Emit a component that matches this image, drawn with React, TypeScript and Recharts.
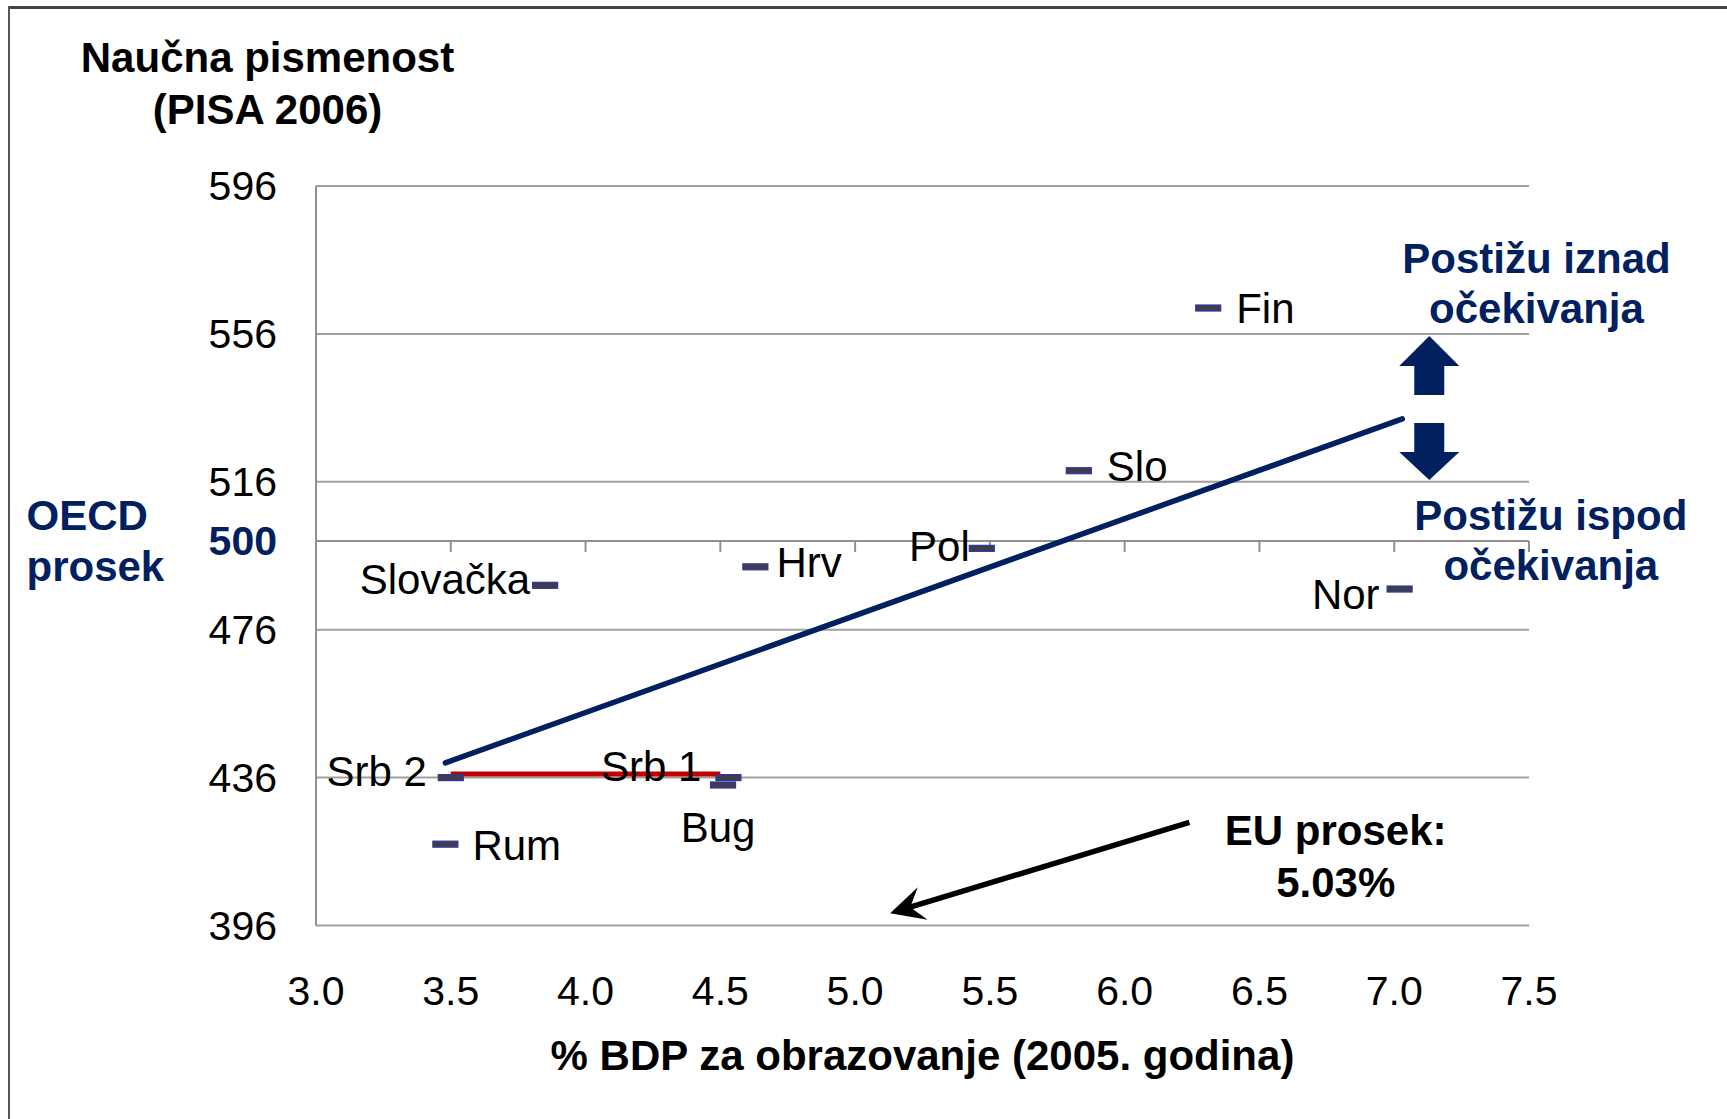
import React from "react";
import {
  ScatterChart, Scatter, XAxis, YAxis, CartesianGrid, ReferenceLine, ReferenceDot,
} from "recharts";

const FONT = "'Liberation Sans', Arial, sans-serif";
const NAVY = "#002060";
const GRID = "#a0a0a0";

// PISA 2006 science vs. % of GDP spent on education (2005)
const COUNTRIES = ["Fin", "Slo", "Pol", "Hrv", "Slovačka", "Nor", "Srb 2", "Srb 1", "Bug", "Rum"];
const GDP_SHARE = [6.31, 5.83, 5.47, 4.63, 3.85, 7.02, 3.5, 4.53, 4.51, 3.48];
const SCIENCE = [563, 519, 498, 493, 488, 487, 436, 436, 434, 418];

const X_TICKS = [3.0, 3.5, 4.0, 4.5, 5.0, 5.5, 6.0, 6.5, 7.0, 7.5];
const Y_TICKS = [396, 436, 476, 500, 516, 556, 596];
const OECD_AVG = 500;

// trend line and the Serbia 1 -> Serbia 2 segment
const TREND_X = [3.48, 7.03];
const TREND_Y = [440, 533];
const SRB_X = [3.5, 4.5];
const SRB_Y = [437, 437];

// EU average arrow, and the above/below arrows anchor
const EU_ARROW_X = [6.24, 5.13];
const EU_ARROW_Y = [423.9, 399.3];
const UPDOWN_X = 7.13;
const UPDOWN_Y = 535.7;

const points = COUNTRIES.map((name, i) => ({ name, x: GDP_SHARE[i], y: SCIENCE[i] }));

const LABEL_POS: Record<string, { anchor: "start" | "end" | "middle"; dx: number; dy: number }> = {
  Fin: { anchor: "start", dx: 28, dy: 0 },
  Slo: { anchor: "start", dx: 28, dy: -4 },
  Pol: { anchor: "end", dx: -12, dy: -2 },
  Hrv: { anchor: "start", dx: 21, dy: -4 },
  "Slovačka": { anchor: "end", dx: -15, dy: -6 },
  Nor: { anchor: "end", dx: -20, dy: 5 },
  "Srb 2": { anchor: "end", dx: -24, dy: -6 },
  "Srb 1": { anchor: "end", dx: -27, dy: -11 },
  Bug: { anchor: "middle", dx: -5, dy: 43 },
  Rum: { anchor: "start", dx: 27, dy: 1 },
};

function DashPoint(props: any) {
  const { cx, cy, payload } = props;
  const pos = LABEL_POS[payload.name];
  return (
    <g>
      <text
        x={cx + pos.dx}
        y={cy + pos.dy}
        textAnchor={pos.anchor}
        dominantBaseline="central"
        fontFamily={FONT}
        fontSize={42}
        fill="#000"
      >
        {payload.name}
      </text>
      <rect x={cx - 12.5} y={cy - 3} width={25} height={6} fill="#3d3d4d" stroke="#3535a0" strokeWidth={1.2} />
    </g>
  );
}

function YTick(props: any) {
  const { x, y, payload } = props;
  const oecd = payload.value === OECD_AVG;
  return (
    <text
      x={x}
      y={y}
      textAnchor="end"
      dominantBaseline="central"
      fontFamily={FONT}
      fontSize={41}
      fontWeight={oecd ? 700 : 400}
      fill={oecd ? NAVY : "#000"}
    >
      {payload.value}
    </text>
  );
}

function XTick(props: any) {
  const { x, y, payload } = props;
  return (
    <text x={x} y={y} dy="0.71em" textAnchor="middle" fontFamily={FONT} fontSize={41} fill="#000">
      {Number(payload.value).toFixed(1)}
    </text>
  );
}

// small tick marks hanging from the OECD average line
function AxisTick(props: any) {
  const { cx, cy } = props;
  return <line x1={cx} y1={cy} x2={cx} y2={cy + 11} stroke="#909090" strokeWidth={2} />;
}

function UpDownArrows(props: any) {
  const { cx, cy } = props;
  const up = [
    [cx, cy - 73], [cx + 30, cy - 43], [cx + 15, cy - 43], [cx + 15, cy - 14],
    [cx - 15, cy - 14], [cx - 15, cy - 43], [cx - 30, cy - 43],
  ];
  const down = [
    [cx, cy + 71], [cx + 30, cy + 43], [cx + 15, cy + 43], [cx + 15, cy + 14],
    [cx - 15, cy + 14], [cx - 15, cy + 43], [cx - 30, cy + 43],
  ];
  return (
    <g>
      <polygon points={up.map((p) => p.join(",")).join(" ")} fill={NAVY} />
      <polygon points={down.map((p) => p.join(",")).join(" ")} fill={NAVY} />
    </g>
  );
}

function ArrowLine(props: any) {
  const { x1, y1, x2, y2 } = props;
  const len = Math.hypot(x2 - x1, y2 - y1);
  const ux = (x2 - x1) / len;
  const uy = (y2 - y1) / len;
  const px = -uy;
  const py = ux;
  const at = (back: number, side: number) => `${x2 - ux * back + px * side},${y2 - uy * back + py * side}`;
  return (
    <g>
      <line x1={x1} y1={y1} x2={x2 - ux * 20} y2={y2 - uy * 20} stroke="#000" strokeWidth={5.5} />
      <polygon points={`${x2},${y2} ${at(34, 17)} ${at(21, 0)} ${at(34, -17)}`} fill="#000" />
    </g>
  );
}

const textStyle = (left: number, top: number, width: number, lh: number, color: string, align: "center" | "left" = "center") =>
  ({
    position: "absolute",
    left,
    top,
    width,
    textAlign: align,
    fontFamily: FONT,
    fontWeight: 700,
    fontSize: 42,
    lineHeight: `${lh}px`,
    color,
    whiteSpace: "nowrap",
  }) as React.CSSProperties;

export default function App() {
  return (
    <div style={{ position: "absolute", left: 0, top: 0, width: 1727, height: 1119, background: "#fff", overflow: "hidden" }}>
      <div style={{ position: "absolute", left: 9, top: 6, width: 1718, height: 2.5, background: "#444" }} />
      <div style={{ position: "absolute", left: 8, top: 6, width: 2, height: 1113, background: "#555" }} />

      <ScatterChart width={1727} height={1119} margin={{ top: 186, right: 198, bottom: 133.5, left: 166 }}>
        <CartesianGrid horizontal vertical={false} stroke={GRID} strokeWidth={2} />
        <XAxis
          type="number"
          dataKey="x"
          domain={[3, 7.5]}
          ticks={X_TICKS}
          axisLine={false}
          tickLine={false}
          tickSize={0}
          tickMargin={50}
          height={60}
          tick={<XTick />}
          interval={0}
        />
        <YAxis
          type="number"
          dataKey="y"
          domain={[396, 596]}
          ticks={Y_TICKS}
          axisLine={{ stroke: "#909090", strokeWidth: 2 }}
          tickLine={false}
          tickSize={0}
          tickMargin={39}
          width={150}
          tick={<YTick />}
          interval={0}
        />
        <ReferenceLine y={OECD_AVG} stroke="#909090" strokeWidth={2} />
        {X_TICKS.slice(1).map((t) => (
          <ReferenceDot key={t} x={t} y={OECD_AVG} r={0} shape={<AxisTick />} />
        ))}
        <ReferenceLine
          segment={[{ x: TREND_X[0], y: TREND_Y[0] }, { x: TREND_X[1], y: TREND_Y[1] }]}
          stroke={NAVY}
          strokeWidth={5.5}
          strokeLinecap="round"
        />
        <Scatter data={points} shape={<DashPoint />} isAnimationActive={false} />
        <ReferenceLine
          segment={[{ x: SRB_X[0], y: SRB_Y[0] }, { x: SRB_X[1], y: SRB_Y[1] }]}
          stroke="#c00000"
          strokeWidth={5}
        />
        <ReferenceLine
          segment={[{ x: EU_ARROW_X[0], y: EU_ARROW_Y[0] }, { x: EU_ARROW_X[1], y: EU_ARROW_Y[1] }]}
          shape={(p: any) => <ArrowLine {...p} />}
        />
        <ReferenceDot x={UPDOWN_X} y={UPDOWN_Y} r={0} shape={<UpDownArrows />} />
      </ScatterChart>

      <div style={textStyle(67.5, 31.5, 400, 52, "#000")}>
        Naučna pismenost
        <br />
        (PISA 2006)
      </div>
      <div style={textStyle(26.5, 489.5, 200, 51, NAVY, "left")}>
        OECD
        <br />
        prosek
      </div>
      <div style={textStyle(1336.5, 234, 400, 49.5, NAVY)}>
        Postižu iznad
        <br />
        očekivanja
      </div>
      <div style={textStyle(1350.8, 490.5, 400, 50, NAVY)}>
        Postižu ispod
        <br />
        očekivanja
      </div>
      <div style={textStyle(1185.7, 805.3, 300, 51.6, "#000")}>
        EU prosek:
        <br />
        5.03%
      </div>
      <div style={textStyle(422.5, 1029.5, 1000, 52, "#000")}>% BDP za obrazovanje (2005. godina)</div>
    </div>
  );
}
